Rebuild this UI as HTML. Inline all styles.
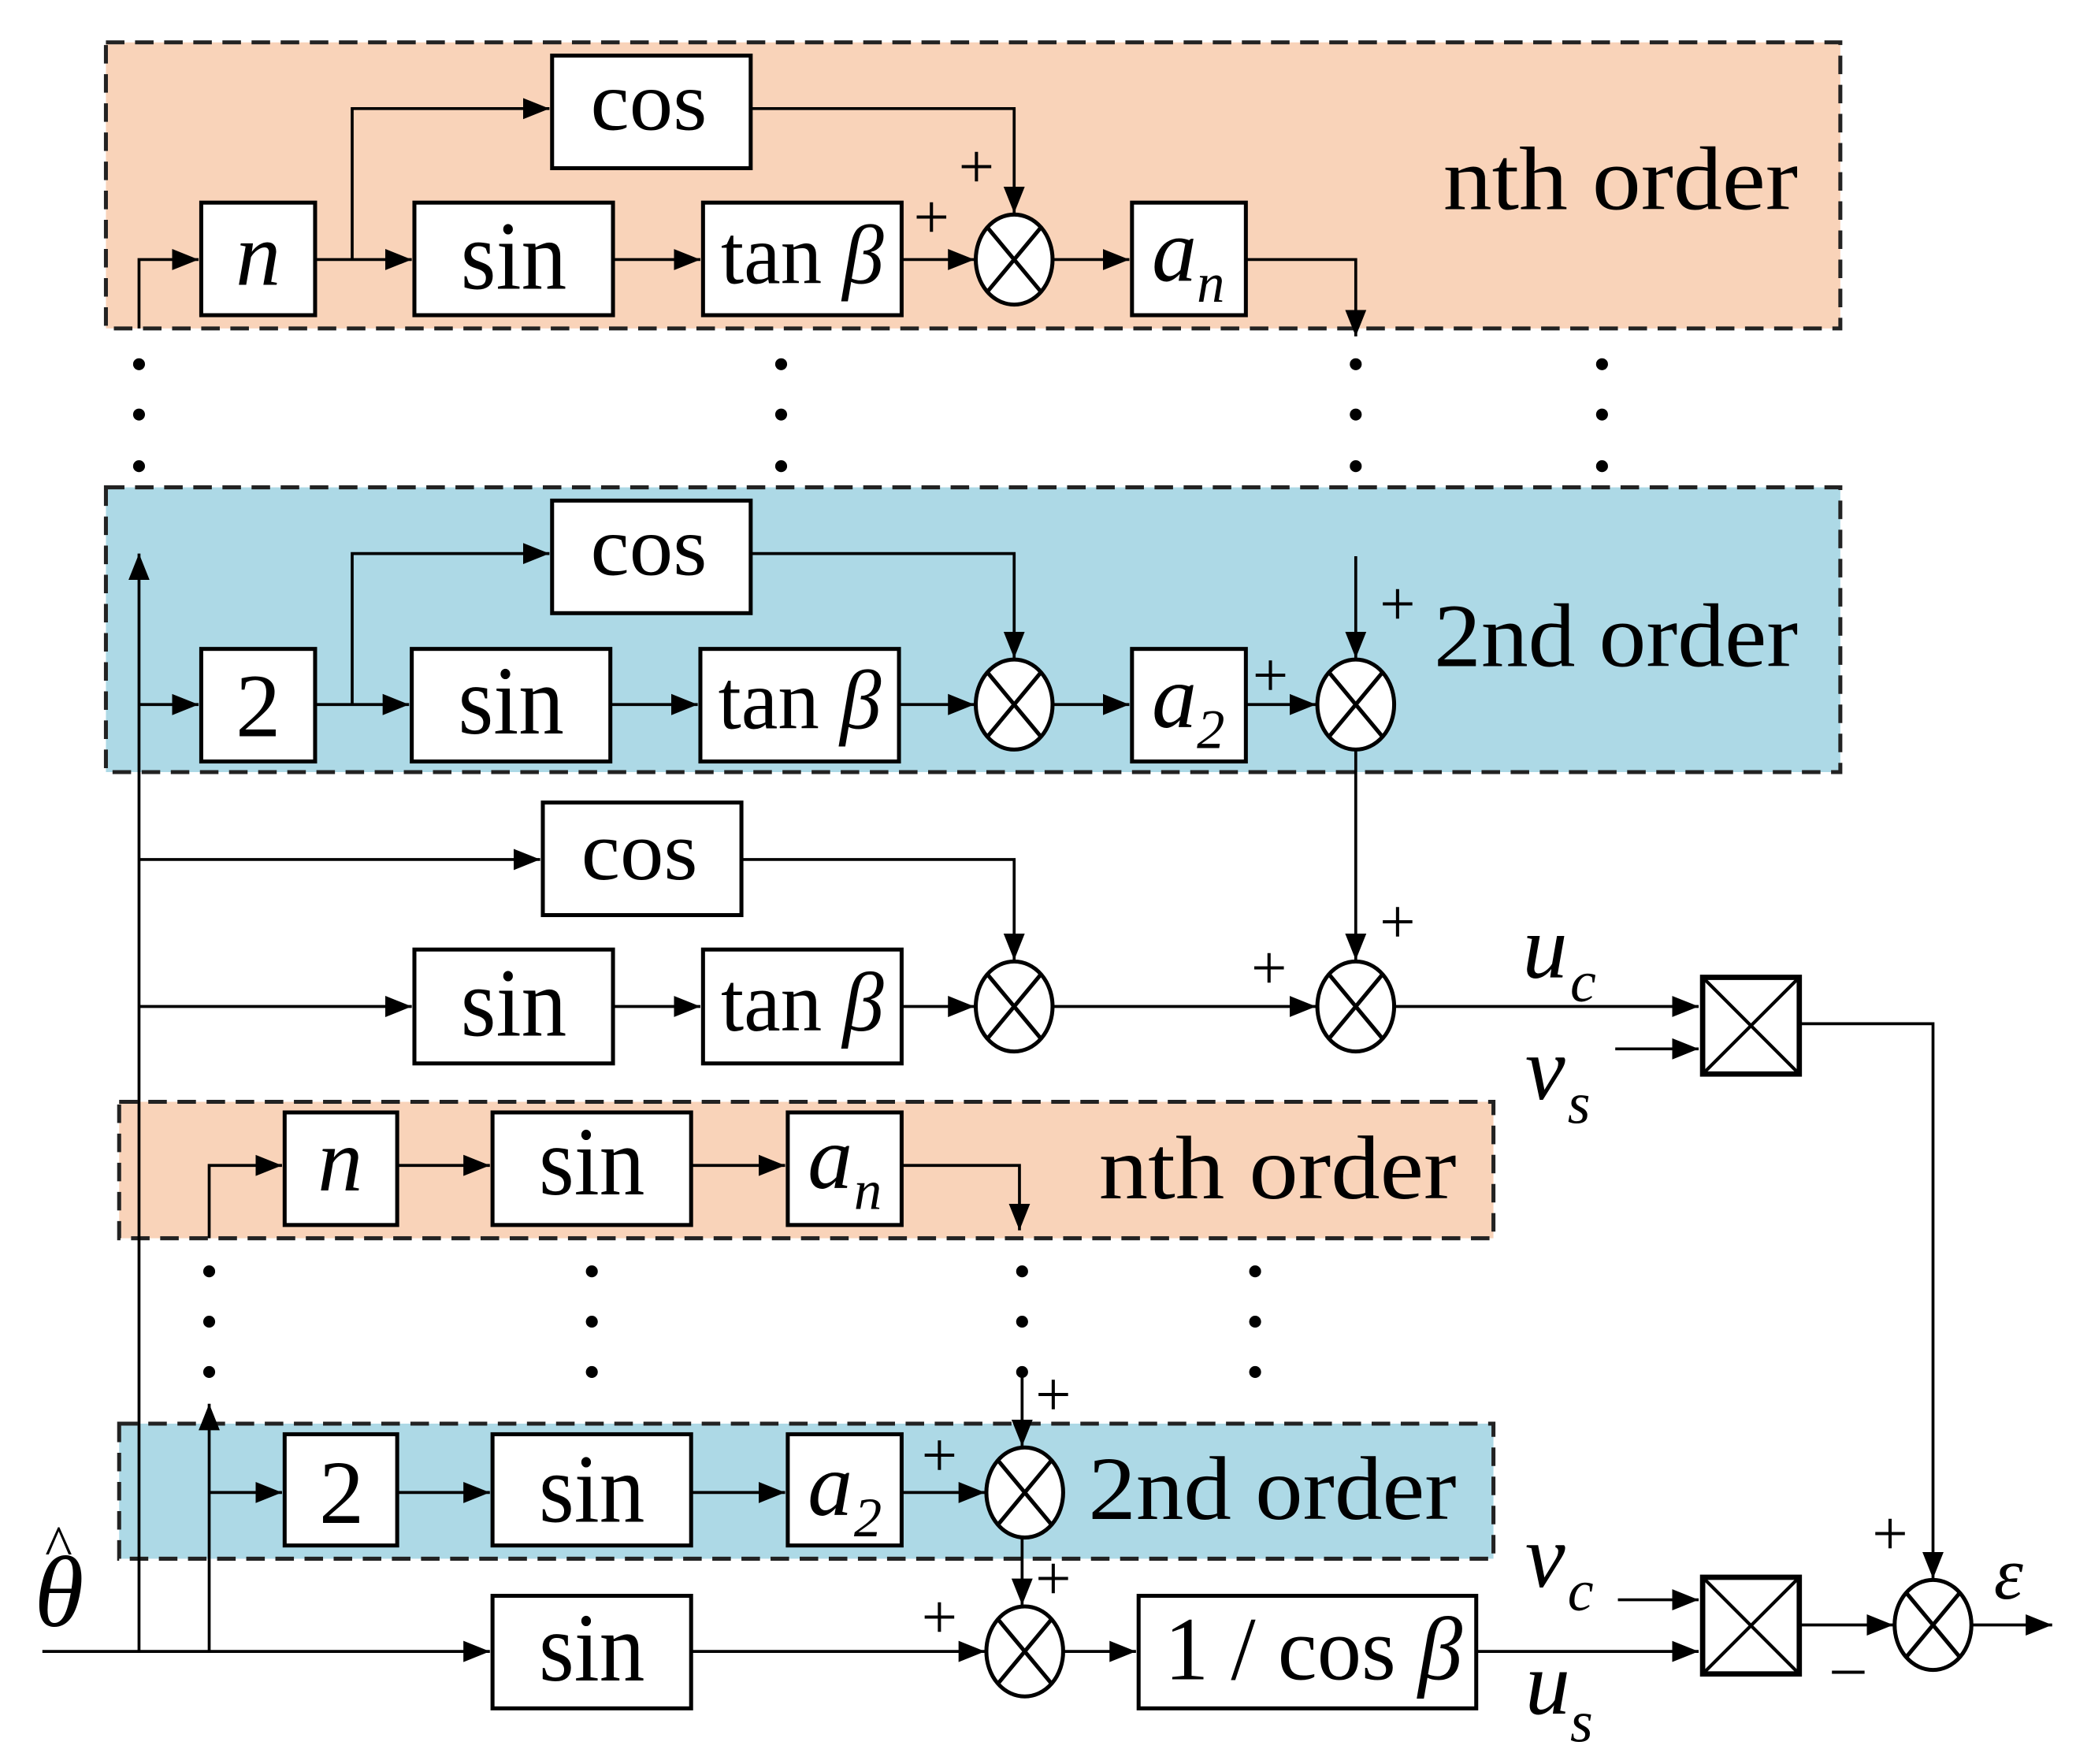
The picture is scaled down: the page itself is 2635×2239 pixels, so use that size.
<!DOCTYPE html>
<html><head><meta charset="utf-8"><style>
html,body{margin:0;padding:0;background:#fff;}
svg{display:block;}
text{font-family:"Liberation Serif",serif;fill:#000;}
</style></head><body>
<svg width="2635" height="2239" viewBox="0 0 1568 1332" preserveAspectRatio="none" xmlns="http://www.w3.org/2000/svg">
<defs>
<marker id="a" markerUnits="userSpaceOnUse" markerWidth="22" markerHeight="20" refX="20" refY="10" orient="auto">
<path d="M0,2 L20,10 L0,18 Z" fill="#000"/>
</marker>
</defs>
<g stroke="#222" stroke-width="3" stroke-dasharray="14,8">
<rect x="80" y="32" width="1310" height="216" fill="#f9d3b9"/>
<rect x="80" y="368" width="1310" height="215" fill="#add9e6"/>
<rect x="90" y="832" width="1038" height="103" fill="#f9d3b9"/>
<rect x="90" y="1075" width="1038" height="102" fill="#add9e6"/>
</g>
<g fill="none" stroke="#000" stroke-width="2.2">
<path d="M105,248 V196 H150" marker-end="url(#a)"/>
<path d="M238,196 H311" marker-end="url(#a)"/>
<path d="M266,196 V82 H415" marker-end="url(#a)"/>
<path d="M463,196 H529" marker-end="url(#a)"/>
<path d="M681,196 H736" marker-end="url(#a)"/>
<path d="M567,82 H766 V161" marker-end="url(#a)"/>
<path d="M796,196 H853" marker-end="url(#a)"/>
<path d="M941,196 H1024 V254" marker-end="url(#a)"/>
<path d="M105,1247 V418" marker-end="url(#a)"/>
<path d="M105,532 H150" marker-end="url(#a)"/>
<path d="M238,532 H309" marker-end="url(#a)"/>
<path d="M266,532 V418 H415" marker-end="url(#a)"/>
<path d="M461,532 H527" marker-end="url(#a)"/>
<path d="M679,532 H736" marker-end="url(#a)"/>
<path d="M567,418 H766 V497" marker-end="url(#a)"/>
<path d="M796,532 H853" marker-end="url(#a)"/>
<path d="M941,532 H994" marker-end="url(#a)"/>
<path d="M1024,420 V497" marker-end="url(#a)"/>
<path d="M105,649 H408" marker-end="url(#a)"/>
<path d="M560,649 H766 V725" marker-end="url(#a)"/>
<path d="M105,760 H311" marker-end="url(#a)"/>
<path d="M463,760 H529" marker-end="url(#a)"/>
<path d="M681,760 H736" marker-end="url(#a)"/>
<path d="M796,760 H994" marker-end="url(#a)"/>
<path d="M1024,566 V725" marker-end="url(#a)"/>
<path d="M1054,760 H1283" marker-end="url(#a)"/>
<path d="M1220,792 H1283" marker-end="url(#a)"/>
<path d="M1360,773 H1460 V1192" marker-end="url(#a)"/>
<path d="M158,935 V880 H213" marker-end="url(#a)"/>
<path d="M300,880 H370" marker-end="url(#a)"/>
<path d="M522,880 H593" marker-end="url(#a)"/>
<path d="M681,880 H770 V929" marker-end="url(#a)"/>
<path d="M158,1247 V1060" marker-end="url(#a)"/>
<path d="M158,1127 H213" marker-end="url(#a)"/>
<path d="M300,1127 H370" marker-end="url(#a)"/>
<path d="M522,1127 H593" marker-end="url(#a)"/>
<path d="M681,1127 H744" marker-end="url(#a)"/>
<path d="M772,1040 V1092" marker-end="url(#a)"/>
<path d="M772,1162 V1212" marker-end="url(#a)"/>
<path d="M32,1247 H370" marker-end="url(#a)"/>
<path d="M522,1247 H744" marker-end="url(#a)"/>
<path d="M804,1247 H858" marker-end="url(#a)"/>
<path d="M1115,1247 H1283" marker-end="url(#a)"/>
<path d="M1222,1208 H1283" marker-end="url(#a)"/>
<path d="M1360,1227 H1430" marker-end="url(#a)"/>
<path d="M1490,1227 H1550" marker-end="url(#a)"/>
</g>
<g fill="#fff" stroke="#000" stroke-width="3">
<rect x="152" y="153" width="86" height="85"/>
<rect x="313" y="153" width="150" height="85"/>
<rect x="531" y="153" width="150" height="85"/>
<rect x="855" y="153" width="86" height="85"/>
<rect x="417" y="42" width="150" height="85"/>
<rect x="152" y="490" width="86" height="85"/>
<rect x="311" y="490" width="150" height="85"/>
<rect x="529" y="490" width="150" height="85"/>
<rect x="855" y="490" width="86" height="85"/>
<rect x="417" y="378" width="150" height="85"/>
<rect x="410" y="606" width="150" height="85"/>
<rect x="313" y="717" width="150" height="86"/>
<rect x="531" y="717" width="150" height="86"/>
<rect x="215" y="840" width="85" height="85"/>
<rect x="372" y="840" width="150" height="85"/>
<rect x="595" y="840" width="86" height="85"/>
<rect x="215" y="1083" width="85" height="84"/>
<rect x="372" y="1083" width="150" height="84"/>
<rect x="595" y="1083" width="86" height="84"/>
<rect x="372" y="1205" width="150" height="85"/>
<rect x="860" y="1205" width="255" height="85"/>
</g>
<g fill="#fff" stroke="#000" stroke-width="4">
<rect x="1286" y="738" width="73" height="73"/>
<rect x="1286" y="1191" width="73" height="73"/>
</g>
<g stroke="#000" stroke-width="2.5">
<path d="M1288,740 L1357,809 M1357,740 L1288,809"/>
<path d="M1288,1193 L1357,1262 M1357,1193 L1288,1262"/>
</g>
<g fill="#fff" stroke="#000" stroke-width="3">
<g transform="translate(766,196)"><ellipse rx="29" ry="34"/><path d="M-20,-24 L20,24 M20,-24 L-20,24"/></g>
<g transform="translate(766,532)"><ellipse rx="29" ry="34"/><path d="M-20,-24 L20,24 M20,-24 L-20,24"/></g>
<g transform="translate(1024,532)"><ellipse rx="29" ry="34"/><path d="M-20,-24 L20,24 M20,-24 L-20,24"/></g>
<g transform="translate(766,760)"><ellipse rx="29" ry="34"/><path d="M-20,-24 L20,24 M20,-24 L-20,24"/></g>
<g transform="translate(1024,760)"><ellipse rx="29" ry="34"/><path d="M-20,-24 L20,24 M20,-24 L-20,24"/></g>
<g transform="translate(774,1127)"><ellipse rx="29" ry="34"/><path d="M-20,-24 L20,24 M20,-24 L-20,24"/></g>
<g transform="translate(774,1247)"><ellipse rx="29" ry="34"/><path d="M-20,-24 L20,24 M20,-24 L-20,24"/></g>
<g transform="translate(1460,1227)"><ellipse rx="29" ry="34"/><path d="M-20,-24 L20,24 M20,-24 L-20,24"/></g>
</g>
<g fill="#000">
<circle cx="105" cy="275" r="4.5"/><circle cx="105" cy="313" r="4.5"/><circle cx="105" cy="352" r="4.5"/>
<circle cx="590" cy="275" r="4.5"/><circle cx="590" cy="313" r="4.5"/><circle cx="590" cy="352" r="4.5"/>
<circle cx="1024" cy="275" r="4.5"/><circle cx="1024" cy="313" r="4.5"/><circle cx="1024" cy="352" r="4.5"/>
<circle cx="1210" cy="275" r="4.5"/><circle cx="1210" cy="313" r="4.5"/><circle cx="1210" cy="352" r="4.5"/>
<circle cx="158" cy="960" r="4.5"/><circle cx="158" cy="998" r="4.5"/><circle cx="158" cy="1036" r="4.5"/>
<circle cx="447" cy="960" r="4.5"/><circle cx="447" cy="998" r="4.5"/><circle cx="447" cy="1036" r="4.5"/>
<circle cx="772" cy="960" r="4.5"/><circle cx="772" cy="998" r="4.5"/><circle cx="772" cy="1036" r="4.5"/>
<circle cx="948" cy="960" r="4.5"/><circle cx="948" cy="998" r="4.5"/><circle cx="948" cy="1036" r="4.5"/>
</g>
<g text-anchor="middle" lengthAdjust="spacingAndGlyphs">
<text x="490" y="98" font-size="64" textLength="88" lengthAdjust="spacingAndGlyphs">cos</text>
<text x="490" y="434" font-size="64" textLength="88" lengthAdjust="spacingAndGlyphs">cos</text>
<text x="483" y="664" font-size="64" textLength="88" lengthAdjust="spacingAndGlyphs">cos</text>
<text x="195" y="215" font-size="68" font-style="italic">n</text>
<text x="195" y="556" font-size="68">2</text>
<text x="388" y="218" font-size="74" textLength="80" lengthAdjust="spacingAndGlyphs">sin</text>
<text x="386" y="554" font-size="74" textLength="80" lengthAdjust="spacingAndGlyphs">sin</text>
<text x="388" y="782" font-size="74" textLength="80" lengthAdjust="spacingAndGlyphs">sin</text>
<text x="606" y="214" font-size="64" textLength="123" lengthAdjust="spacingAndGlyphs">tan <tspan font-style="italic">β</tspan></text>
<text x="604" y="550" font-size="64" textLength="123" lengthAdjust="spacingAndGlyphs">tan <tspan font-style="italic">β</tspan></text>
<text x="606" y="778" font-size="64" textLength="123" lengthAdjust="spacingAndGlyphs">tan <tspan font-style="italic">β</tspan></text>
<text x="257" y="899" font-size="68" font-style="italic">n</text>
<text x="447" y="902" font-size="74" textLength="80" lengthAdjust="spacingAndGlyphs">sin</text>
<text x="258" y="1150" font-size="68">2</text>
<text x="447" y="1149" font-size="74" textLength="80" lengthAdjust="spacingAndGlyphs">sin</text>
<text x="447" y="1269" font-size="74" textLength="80" lengthAdjust="spacingAndGlyphs">sin</text>
<text x="992" y="1268" font-size="68" textLength="225" lengthAdjust="spacingAndGlyphs">1 / cos <tspan font-style="italic">β</tspan></text>
</g>
<g font-size="68" font-style="italic">
<text x="870" y="212">a</text><text x="904" y="228" font-size="42">n</text>
<text x="870" y="549">a</text><text x="904" y="565" font-size="42">2</text>
<text x="610" y="897">a</text><text x="645" y="913" font-size="42">n</text>
<text x="610" y="1144">a</text><text x="645" y="1160" font-size="42">2</text>
<text x="1150" y="738">u</text><text x="1186" y="756" font-size="44">c</text>
<text x="1152" y="830">v</text><text x="1184" y="848" font-size="44">s</text>
<text x="1152" y="1198">v</text><text x="1184" y="1216" font-size="44">c</text>
<text x="1152" y="1294">u</text><text x="1186" y="1315" font-size="44">s</text>
<text x="1506" y="1207" font-size="56">ε</text>
<text x="26" y="1228" font-size="76">θ</text>
</g>
<text x="34" y="1182" font-size="44">^</text>
<g font-size="68" lengthAdjust="spacingAndGlyphs">
<text x="1090" y="158" textLength="268" lengthAdjust="spacingAndGlyphs">nth  order</text>
<text x="1083" y="503" textLength="275" lengthAdjust="spacingAndGlyphs">2nd  order</text>
<text x="830" y="905" textLength="270" lengthAdjust="spacingAndGlyphs">nth  order</text>
<text x="822" y="1147" textLength="278" lengthAdjust="spacingAndGlyphs">2nd  order</text>
</g>
<g font-size="48">
<text x="724" y="142">+</text>
<text x="690" y="180">+</text>
<text x="1042" y="472">+</text>
<text x="946" y="526">+</text>
<text x="1042" y="712">+</text>
<text x="945" y="747">+</text>
<text x="782" y="1069">+</text>
<text x="696" y="1115">+</text>
<text x="782" y="1208">+</text>
<text x="696" y="1237">+</text>
<text x="1414" y="1174">+</text>
<text x="1384" y="1274">–</text>
</g>
</svg>
</body></html>
